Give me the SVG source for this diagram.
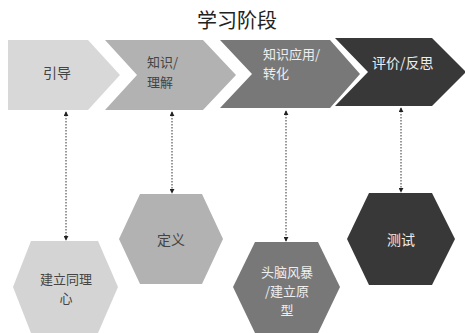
<svg xmlns="http://www.w3.org/2000/svg" width="465" height="333" viewBox="0 0 465 333">
<defs>
<style>
text{font-family:"Noto Sans CJK SC","Noto Sans",sans-serif;}
.t{font-size:20px;fill:#222;}
.l{font-size:14px;}
.m{font-size:13px;}
.dk{fill:#444;}
.lt{fill:#eee;}
.c{stroke:#333;stroke-width:1;stroke-dasharray:1.5 1.5;fill:none;}
</style>
<marker id="ah" viewBox="0 0 6 6" refX="5" refY="3" markerWidth="5" markerHeight="5" orient="auto-start-reverse" markerUnits="userSpaceOnUse">
<path d="M0,0 L6,3 L0,6 z" fill="#222"/>
</marker>
</defs>
<rect width="465" height="333" fill="#fff"/>
<text class="t" x="237" y="28" text-anchor="middle">学习阶段</text>

<g id="stage1">
<polygon points="8,40 88,40 120,75 88,110 8,110" fill="#d8d8d8"/>
<text class="l dk" x="43" y="78">引导</text>
</g>
<g id="stage2">
<polygon points="105,40 203,40 236,75 203,110 105,110 137,75" fill="#b2b2b2"/>
<text class="m dk" x="147" y="67">知识/</text>
<text class="m dk" x="147" y="87">理解</text>
</g>
<g id="stage3">
<polygon points="220,40 330,40 360,74 330,108 220,108 252,74" fill="#787878"/>
<text class="m lt" x="263" y="59">知识应用/</text>
<text class="m lt" x="263" y="78">转化</text>
</g>
<g id="stage4">
<polygon points="335,38 432,38 466,72 432,106 335,106 368,72" fill="#383838"/>
<text class="l lt" x="372" y="68">评价/反思</text>
</g>

<g id="connectors">
<line class="c" x1="66" y1="112" x2="66" y2="240" marker-start="url(#ah)" marker-end="url(#ah)"/>
<line class="c" x1="172" y1="112" x2="172" y2="193" marker-start="url(#ah)" marker-end="url(#ah)"/>
<line class="c" x1="286" y1="111" x2="286" y2="241" marker-start="url(#ah)" marker-end="url(#ah)"/>
<line class="c" x1="401" y1="108" x2="401" y2="192" marker-start="url(#ah)" marker-end="url(#ah)"/>
</g>

<g id="empathize">
<polygon points="31,241 98,241 118,287 98,333 31,333 13,287" fill="#d4d4d4"/>
<text class="m dk" x="66" y="284" text-anchor="middle">建立同理</text>
<text class="m dk" x="66" y="303" text-anchor="middle">心</text>
</g>
<g id="define">
<polygon points="140,194 202,194 223,239 202,284 140,284 119,239" fill="#b2b2b2"/>
<text class="l dk" x="171" y="245" text-anchor="middle">定义</text>
</g>
<g id="ideate">
<polygon points="255,242 318,242 340,287 318,333 255,333 233,287" fill="#787878"/>
<text class="m lt" x="287" y="277" text-anchor="middle">头脑风暴</text>
<text class="m lt" x="287" y="296" text-anchor="middle">/建立原</text>
<text class="m lt" x="287" y="315" text-anchor="middle">型</text>
</g>
<g id="test">
<polygon points="369,193 432,193 455,239 432,285 369,285 347,239" fill="#383838"/>
<text class="l lt" x="401" y="245" text-anchor="middle">测试</text>
</g>
</svg>
